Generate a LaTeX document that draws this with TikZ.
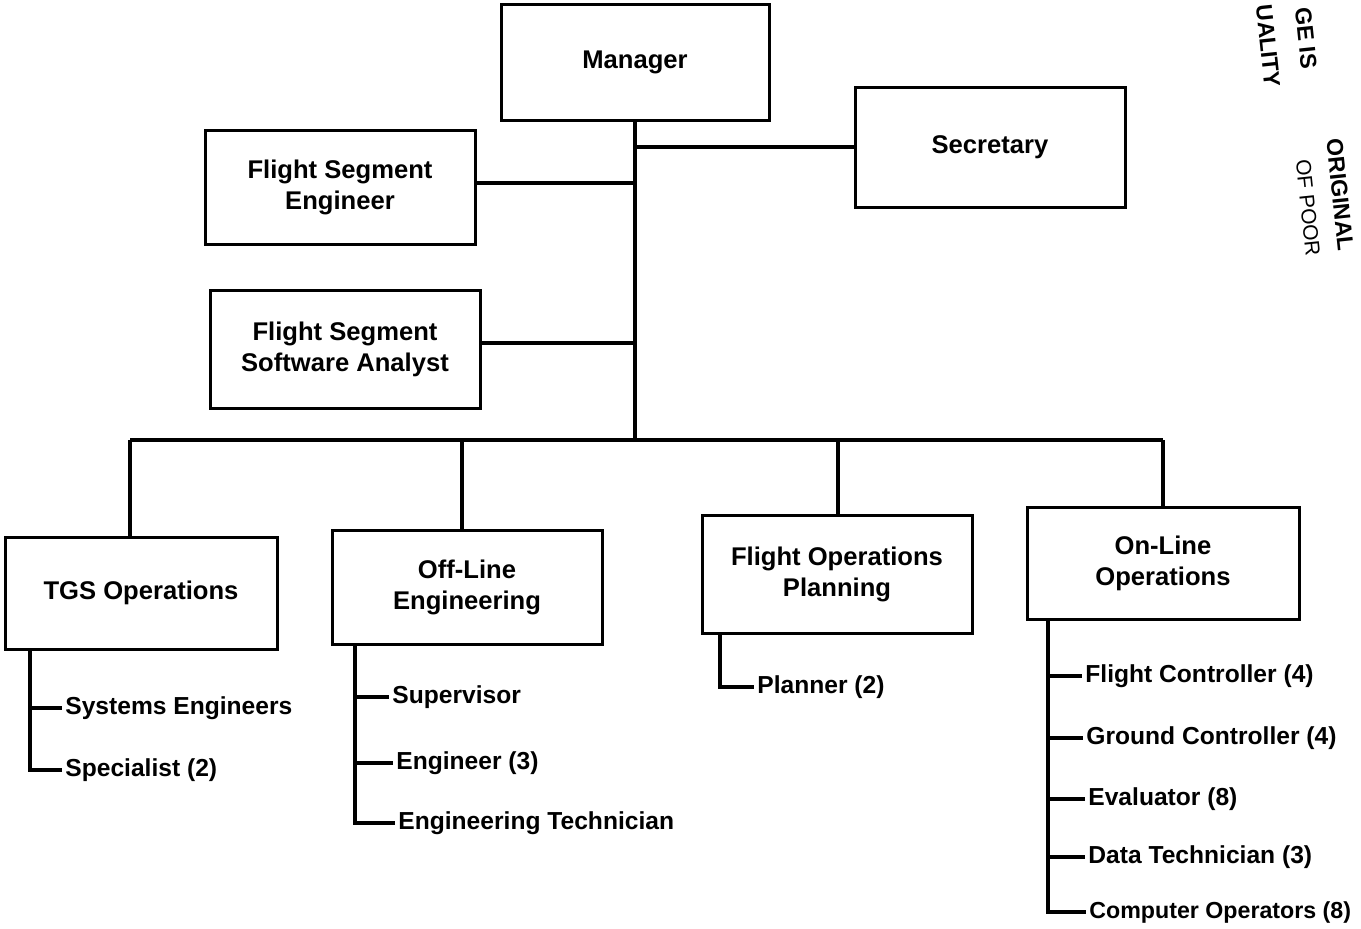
\documentclass[tikz,border=0pt]{standalone}
\usepackage{fontspec}
\setmainfont{Liberation Sans}
\begin{document}
\begin{tikzpicture}[x=0.5pt,y=-0.5pt,
  box/.style={draw, line width=1.5pt, rectangle, align=center, inner sep=0pt,
    font=\bfseries\fontsize{12.8}{15.5}\selectfont},
  item/.style={anchor=west, inner sep=1.5pt, font=\bfseries\fontsize{12.3}{14}\selectfont},
  conn/.style={line width=2pt},
  lst/.style={line width=2pt},
  stamp/.style={font=\bfseries\fontsize{11.5}{13}\selectfont, rotate=-84, inner sep=0pt}]
\useasboundingbox (0,0) rectangle (1361,928);
% boxes
\node[box, minimum width=134pt, minimum height=58pt] (mgr) at (635,62) {Manager};
\node[box, minimum width=135pt, minimum height=60pt] (sec) at (990,147) {Secretary};
\node[box, minimum width=135pt, minimum height=57pt] (fse) at (340,187) {Flight Segment\\Engineer};
\node[box, minimum width=135pt, minimum height=59pt] (fssa) at (345,349) {Flight Segment\\Software Analyst};
\node[box, minimum width=136pt, minimum height=56pt] (tgs) at (141,593) {TGS Operations};
\node[box, minimum width=135pt, minimum height=57pt] (off) at (467,587) {Off-Line\\Engineering};
\node[box, minimum width=135pt, minimum height=59pt] (fop) at (837,574) {Flight Operations\\Planning};
\node[box, minimum width=136pt, minimum height=56pt] (onl) at (1163,563) {On-Line\\Operations};
% bus coordinates
\coordinate (busM) at (635,440);
\coordinate (busL) at (130,440);
\coordinate (busR) at (1163,440);
\coordinate (dOff) at (462,440);
\coordinate (dFop) at (838,440);
% trunk and staff lines
\draw[conn] (mgr.south) -- (busM);
\draw[conn] (sec.west) -- (sec.west -| mgr.south);
\draw[conn] (fse.east) ++(0,-4) coordinate (fseE) -- (fseE -| mgr.south);
\draw[conn] (fssa.east) ++(0,-6) coordinate (fssaE) -- (fssaE -| mgr.south);
% bus and drops
\draw[conn] (busL) -- (busR);
\draw[conn] (busL) -- (busL |- tgs.north);
\draw[conn] (dOff) -- (dOff |- off.north);
\draw[conn] (dFop) -- (dFop |- fop.north);
\draw[conn] (busR) -- (onl.north);
% list items
\node[item] (se) at (62,708) {Systems Engineers};
\node[item] (sp) at (62,770) {Specialist (2)};
\node[item] (sv) at (389,697) {Supervisor};
\node[item] (en) at (393,763) {Engineer (3)};
\node[item] (et) at (395,823) {Engineering Technician};
\node[item] (pl) at (754,687) {Planner (2)};
\node[item] (fc) at (1082,676) {Flight Controller (4)};
\node[item] (gc) at (1083,738) {Ground Controller (4)};
\node[item] (ev) at (1085,799) {Evaluator (8)};
\node[item] (dt) at (1085,857) {Data Technician (3)};
\node[item, font=\bfseries\fontsize{11.6}{14}\selectfont] (co) at (1086,912) {Computer Operators (8)};
% list connectors
\coordinate (tv) at (30,650);
\draw[lst] (tv) |- (sp.west);
\draw[lst] (tv |- se.west) -- (se.west);
\coordinate (ov) at (355,645);
\draw[lst] (ov) |- (et.west);
\draw[lst] (ov |- sv.west) -- (sv.west);
\draw[lst] (ov |- en.west) -- (en.west);
\coordinate (pv) at (720,633);
\draw[lst] (pv) |- (pl.west);
\coordinate (nv) at (1048,620);
\draw[lst] (nv) |- (co.west);
\draw[lst] (nv |- fc.west) -- (fc.west);
\draw[lst] (nv |- gc.west) -- (gc.west);
\draw[lst] (nv |- ev.west) -- (ev.west);
\draw[lst] (nv |- dt.west) -- (dt.west);
% stamp fragments
\node[stamp] (s1) at (1306,38) {GE IS};
\node[stamp] (s2) at (1268,46) {UALITY};
\node[stamp] (s3) at (1340,195) {ORIGINAL};
\node[stamp, font=\fontsize{10.5}{12}\selectfont] (s4) at (1308,208) {OF POOR};
\end{tikzpicture}
\end{document}
